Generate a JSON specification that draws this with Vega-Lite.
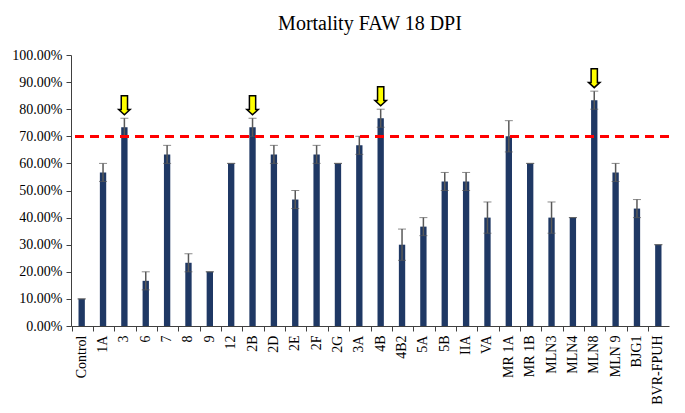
{
  "$schema": "https://vega.github.io/schema/vega-lite/v6.json",
  "width": 598,
  "height": 271,
  "padding": {"left": 11, "top": 14, "right": 10, "bottom": 5},
  "background": "white",
  "title": {"text": "Mortality FAW 18 DPI", "font": "Liberation Serif", "fontSize": 20, "fontWeight": "normal", "color": "#000000", "offset": 14},
  "config": {
    "view": {"stroke": null},
    "font": "Liberation Serif",
    "axis": {"labelOverlap": false, "labelFont": "Liberation Serif", "labelFontSize": 14, "labelColor": "#000000", "tickSize": 5, "tickColor": "#404040", "domainColor": "#404040", "labelPadding": 4, "grid": false}
  },
  "data": {"values": [
    {"treatment": "Control", "value": 0.10, "err": 0, "arrow": false},
    {"treatment": "1A", "value": 0.5667, "err": 0.0333, "arrow": false},
    {"treatment": "3", "value": 0.7333, "err": 0.0333, "arrow": true},
    {"treatment": "6", "value": 0.1667, "err": 0.0333, "arrow": false},
    {"treatment": "7", "value": 0.6333, "err": 0.0333, "arrow": false},
    {"treatment": "8", "value": 0.2333, "err": 0.0333, "arrow": false},
    {"treatment": "9", "value": 0.20, "err": 0, "arrow": false},
    {"treatment": "12", "value": 0.60, "err": 0, "arrow": false},
    {"treatment": "2B", "value": 0.7333, "err": 0.0333, "arrow": true},
    {"treatment": "2D", "value": 0.6333, "err": 0.0333, "arrow": false},
    {"treatment": "2E", "value": 0.4667, "err": 0.0333, "arrow": false},
    {"treatment": "2F", "value": 0.6333, "err": 0.0333, "arrow": false},
    {"treatment": "2G", "value": 0.60, "err": 0, "arrow": false},
    {"treatment": "3A", "value": 0.6667, "err": 0.0333, "arrow": false},
    {"treatment": "4B", "value": 0.7667, "err": 0.0333, "arrow": true},
    {"treatment": "4B2", "value": 0.30, "err": 0.0577, "arrow": false},
    {"treatment": "5A", "value": 0.3667, "err": 0.0333, "arrow": false},
    {"treatment": "5B", "value": 0.5333, "err": 0.0333, "arrow": false},
    {"treatment": "IIA", "value": 0.5333, "err": 0.0333, "arrow": false},
    {"treatment": "VA", "value": 0.40, "err": 0.0577, "arrow": false},
    {"treatment": "MR 1A", "value": 0.70, "err": 0.0577, "arrow": false},
    {"treatment": "MR 1B", "value": 0.60, "err": 0, "arrow": false},
    {"treatment": "MLN3", "value": 0.40, "err": 0.0577, "arrow": false},
    {"treatment": "MLN4", "value": 0.40, "err": 0, "arrow": false},
    {"treatment": "MLN8", "value": 0.8333, "err": 0.0333, "arrow": true},
    {"treatment": "MLN 9", "value": 0.5667, "err": 0.0333, "arrow": false},
    {"treatment": "BJG1", "value": 0.4333, "err": 0.0333, "arrow": false},
    {"treatment": "BVR-FPUH", "value": 0.30, "err": 0, "arrow": false}
  ]},
  "layer": [
    {
      "mark": {"type": "bar", "color": "#1F3864", "width": {"band": 0.33}},
      "encoding": {
        "x": {"field": "treatment", "type": "nominal", "sort": null, "title": null,
          "axis": {"title": null, "labelAngle": -90, "bandPosition": 0}},
        "y": {"field": "value", "type": "quantitative", "scale": {"domain": [0, 1]}, "title": null,
          "axis": {"title": null, "format": ".2%", "values": [0, 0.1, 0.2, 0.3, 0.4, 0.5, 0.6, 0.7, 0.8, 0.9, 1]}}
      }
    },
    {
      "mark": {"type": "errorbar", "color": "#595959", "ticks": {"size": 8, "color": "#595959"}, "rule": {"strokeWidth": 1.5}},
      "encoding": {
        "x": {"field": "treatment", "type": "nominal", "sort": null, "title": null, "axis": {"title": null, "labelAngle": -90, "bandPosition": 0}},
        "y": {"field": "value", "type": "quantitative", "title": null, "axis": {"title": null, "format": ".2%", "values": [0, 0.1, 0.2, 0.3, 0.4, 0.5, 0.6, 0.7, 0.8, 0.9, 1]}},
        "yError": {"field": "err"}
      }
    },
    {
      "mark": {"type": "rule", "color": "#FF0000", "strokeDash": [9, 6], "strokeWidth": 2.5},
      "encoding": {"y": {"datum": 0.7, "type": "quantitative", "title": null, "axis": {"title": null, "format": ".2%", "values": [0, 0.1, 0.2, 0.3, 0.4, 0.5, 0.6, 0.7, 0.8, 0.9, 1]}}}
    },
    {
      "transform": [{"filter": "datum.arrow"}, {"calculate": "datum.value + datum.err", "as": "top"}],
      "mark": {"type": "point", "shape": "M-0.33,-1L0.33,-1L0.33,0.45L0.6,0.45L0,1L-0.6,0.45L-0.33,0.45Z", "filled": true, "fill": "#FFFF00", "stroke": "#000000", "strokeWidth": 1.5, "opacity": 1, "size": 360, "yOffset": -13},
      "encoding": {
        "x": {"field": "treatment", "type": "nominal", "sort": null, "title": null, "axis": {"title": null, "labelAngle": -90, "bandPosition": 0}},
        "y": {"field": "top", "type": "quantitative", "title": null, "axis": {"title": null, "format": ".2%", "values": [0, 0.1, 0.2, 0.3, 0.4, 0.5, 0.6, 0.7, 0.8, 0.9, 1]}}
      }
    }
  ]
}
